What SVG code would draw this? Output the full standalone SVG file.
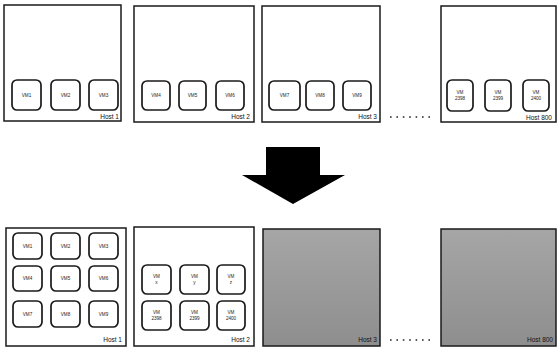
<svg xmlns="http://www.w3.org/2000/svg" width="558" height="350" viewBox="0 0 558 350">
  <style>
    .host { fill: #ffffff; stroke: #1a1a1a; stroke-width: 1.5; }
    .host.off { fill: url(#offGray); }
    .vm { fill: #ffffff; stroke: #1a1a1a; stroke-width: 1.7; }
    .vmt { font-family: "Liberation Sans", Arial, sans-serif; font-size: 4.6px; fill: #1a1a1a; text-anchor: middle; }
    .ht { font-family: "Liberation Sans", Arial, sans-serif; font-size: 6.5px; fill: #111; text-anchor: end; }
    .dots { stroke: #222; stroke-width: 1.6; stroke-dasharray: 1.6 4.8; fill: none; }
  </style>
  <defs>
    <linearGradient id="offGray" x1="0" y1="0" x2="0" y2="1">
      <stop offset="0" stop-color="#a6a6a6"/>
      <stop offset="1" stop-color="#8e8e8e"/>
    </linearGradient>
  </defs>

  <!-- before consolidation: one host per three VMs -->
  <g id="top-host1">
    <rect class="host" x="4" y="5" width="117" height="116"/>
    <rect class="vm" x="12" y="80" width="29" height="30" rx="5"/>
    <rect class="vm" x="51" y="80" width="29" height="30" rx="5"/>
    <rect class="vm" x="89" y="80" width="29" height="30" rx="5"/>
    <text class="vmt" x="26.5" y="96.5">VM1</text>
    <text class="vmt" x="65.5" y="96.5">VM2</text>
    <text class="vmt" x="103.5" y="96.5">VM3</text>
    <text class="ht" x="119" y="119">Host 1</text>
  </g>
  <g id="top-host2">
    <rect class="host" x="134" y="6" width="120" height="116"/>
    <rect class="vm" x="142" y="81" width="28" height="29" rx="5"/>
    <rect class="vm" x="179" y="81" width="27" height="29" rx="5"/>
    <rect class="vm" x="216" y="81" width="28" height="29" rx="5"/>
    <text class="vmt" x="156" y="97">VM4</text>
    <text class="vmt" x="192.5" y="97">VM5</text>
    <text class="vmt" x="230" y="97">VM6</text>
    <text class="ht" x="250" y="119">Host 2</text>
  </g>
  <g id="top-host3">
    <rect class="host" x="262" y="6" width="118" height="116"/>
    <rect class="vm" x="269" y="81" width="31" height="29" rx="5"/>
    <rect class="vm" x="306" y="81" width="28" height="29" rx="5"/>
    <rect class="vm" x="343" y="81" width="28" height="29" rx="5"/>
    <text class="vmt" x="284.5" y="97">VM7</text>
    <text class="vmt" x="320" y="97">VM8</text>
    <text class="vmt" x="357" y="97">VM9</text>
    <text class="ht" x="377" y="119">Host 3</text>
  </g>
  <g id="top-host800">
    <rect class="host" x="441" y="6" width="115" height="116"/>
    <rect class="vm" x="447" y="80" width="26" height="31" rx="5"/>
    <rect class="vm" x="485" y="80" width="26" height="31" rx="5"/>
    <rect class="vm" x="523" y="80" width="26" height="31" rx="5"/>
    <text class="vmt" x="460" y="94">VM</text>
    <text class="vmt" x="460" y="100">2398</text>
    <text class="vmt" x="498" y="94">VM</text>
    <text class="vmt" x="498" y="100">2399</text>
    <text class="vmt" x="536" y="94">VM</text>
    <text class="vmt" x="536" y="100">2400</text>
    <text class="ht" x="552" y="120">Host 800</text>
  </g>

  <!-- consolidation arrow and ellipses -->
  <g id="connectors">
    <line class="dots" x1="390" y1="117" x2="434" y2="117"/>
    <line class="dots" x1="390" y1="340" x2="434" y2="340"/>
    <polygon points="266,147 320,147 320,175 345,175 293,204 242,175 266,175" fill="#000"/>
  </g>

  <!-- after consolidation: nine VMs per host, freed hosts idle -->
  <g id="bottom-host1">
    <rect class="host" x="6" y="228" width="120" height="118"/>
    <rect class="vm" x="13" y="233" width="29" height="26" rx="5"/>
    <rect class="vm" x="51" y="233" width="29" height="26" rx="5"/>
    <rect class="vm" x="89" y="233" width="29" height="26" rx="5"/>
    <rect class="vm" x="13" y="266" width="29" height="25" rx="5"/>
    <rect class="vm" x="51" y="266" width="29" height="25" rx="5"/>
    <rect class="vm" x="89" y="266" width="29" height="25" rx="5"/>
    <rect class="vm" x="13" y="301" width="29" height="26" rx="5"/>
    <rect class="vm" x="51" y="301" width="29" height="26" rx="5"/>
    <rect class="vm" x="89" y="301" width="29" height="26" rx="5"/>
    <text class="vmt" x="27.5" y="247.5">VM1</text>
    <text class="vmt" x="65.5" y="247.5">VM2</text>
    <text class="vmt" x="103.5" y="247.5">VM3</text>
    <text class="vmt" x="27.5" y="280">VM4</text>
    <text class="vmt" x="65.5" y="280">VM5</text>
    <text class="vmt" x="103.5" y="280">VM6</text>
    <text class="vmt" x="27.5" y="315.5">VM7</text>
    <text class="vmt" x="65.5" y="315.5">VM8</text>
    <text class="vmt" x="103.5" y="315.5">VM9</text>
    <text class="ht" x="122" y="342">Host 1</text>
  </g>
  <g id="bottom-host2">
    <rect class="host" x="134" y="227" width="120" height="119"/>
    <rect class="vm" x="142" y="265" width="29" height="29" rx="5"/>
    <rect class="vm" x="180" y="265" width="29" height="29" rx="5"/>
    <rect class="vm" x="217" y="265" width="28" height="29" rx="5"/>
    <rect class="vm" x="142" y="301" width="29" height="29" rx="5"/>
    <rect class="vm" x="180" y="301" width="29" height="29" rx="5"/>
    <rect class="vm" x="217" y="301" width="28" height="29" rx="5"/>
    <text class="vmt" x="156.5" y="278">VM</text>
    <text class="vmt" x="156.5" y="284">x</text>
    <text class="vmt" x="194.5" y="278">VM</text>
    <text class="vmt" x="194.5" y="284">y</text>
    <text class="vmt" x="231" y="278">VM</text>
    <text class="vmt" x="231" y="284">z</text>
    <text class="vmt" x="156.5" y="314">VM</text>
    <text class="vmt" x="156.5" y="320">2398</text>
    <text class="vmt" x="194.5" y="314">VM</text>
    <text class="vmt" x="194.5" y="320">2399</text>
    <text class="vmt" x="231" y="314">VM</text>
    <text class="vmt" x="231" y="320">2400</text>
    <text class="ht" x="250" y="342">Host 2</text>
  </g>
  <g id="bottom-host3">
    <rect class="host off" x="263" y="229" width="117" height="117"/>
    <text class="ht" x="377" y="342">Host 3</text>
  </g>
  <g id="bottom-host800">
    <rect class="host off" x="441" y="229" width="115" height="117"/>
    <text class="ht" x="553" y="342">Host 800</text>
  </g>
</svg>
